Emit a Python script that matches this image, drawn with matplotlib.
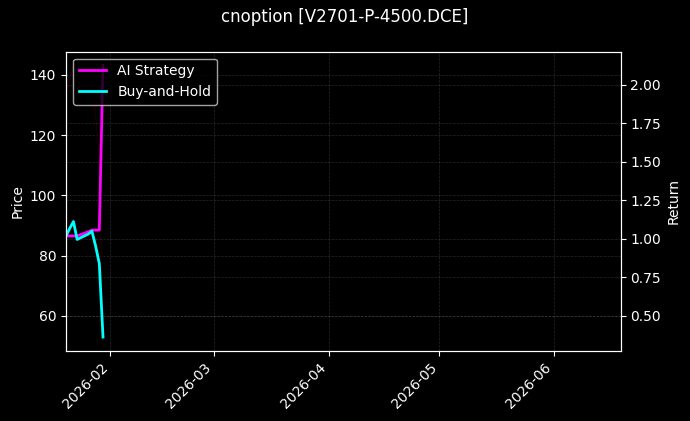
import matplotlib
matplotlib.use("Agg")
import matplotlib.pyplot as plt
import matplotlib.dates as mdates
import pandas as pd

dates = pd.to_datetime(["2026-01-20", "2026-01-21", "2026-01-22", "2026-01-23",
                        "2026-01-26", "2026-01-27", "2026-01-28", "2026-01-29",
                        "2026-01-30"])
price = [134.0, 138.5, 143.2, 131.5, 136.0, 138.0, 126.0, 113.0, 52.9]
ai_strategy = [1.018, 1.018, 1.018, 1.018, 1.045, 1.056, 1.056, 1.056, 2.128]
buy_hold = [1.018, 1.067, 1.112, 0.995, 1.030, 1.049, 0.952, 0.839, 0.360]
x_end = pd.Timestamp("2026-06-19")
title = "cnoption [V2701-P-4500.DCE]"

plt.style.use("dark_background")
fig = plt.figure(figsize=(6.9, 4.21), dpi=100)
ax1 = fig.add_subplot(111)
fig.subplots_adjust(left=0.0957, right=0.8994, top=0.8772, bottom=0.167)

ax1.plot(dates, price, color="#1c0000", linewidth=1.0)
ax1.set_ylabel("Price")
ax1.grid(True, linestyle="--", linewidth=0.5, alpha=0.3, color="gray")

ax2 = ax1.twinx()
ax2.plot(dates, ai_strategy, color="#ff00ff", linewidth=2, label="AI Strategy")
ax2.plot(dates, buy_hold, color="#00ffff", linewidth=2, label="Buy-and-Hold")
ax2.set_ylabel("Return")
ax2.grid(True, linestyle="--", linewidth=0.5, alpha=0.3, color="gray")
ax2.legend(loc="upper left")

ax1.set_xlim(dates[0], x_end)
ax1.xaxis.set_major_locator(mdates.MonthLocator())
ax1.xaxis.set_major_formatter(mdates.DateFormatter("%Y-%m"))
for lbl in ax1.get_xticklabels():
    lbl.set_rotation(45)
    lbl.set_ha("right")

fig.suptitle(title, fontsize=12)
fig.savefig("out.png", dpi=100)
